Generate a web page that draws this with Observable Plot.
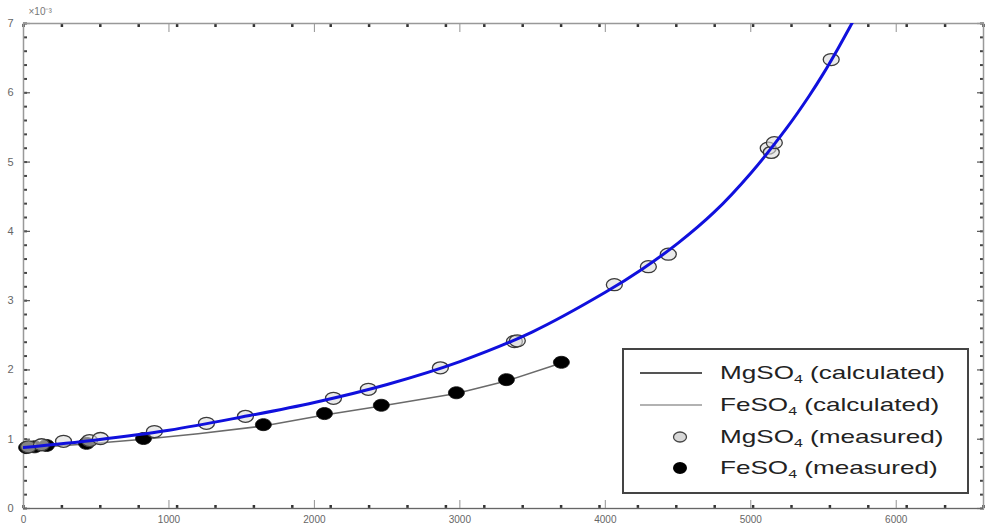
<!DOCTYPE html>
<html>
<head>
<meta charset="utf-8">
<script src="https://cdn.jsdelivr.net/npm/d3@7"></script>
<script src="https://cdn.jsdelivr.net/npm/@observablehq/plot@0.6"></script>
<style>
  body { margin: 0; background: #fff; }
  #wrap { position: relative; width: 985px; height: 530px; font-family: "Liberation Sans", Arial, sans-serif; }
  #legend { position: absolute; left: 622px; top: 348px; }
</style>
</head>
<body>
<div id="wrap"></div>
<script>
// ---- data ----
const xMajor = [0, 1000, 2000, 3000, 4000, 5000, 6000];
const yMajor = [0, 1, 2, 3, 4, 5, 6, 7];

// MgSO4 measured (x, y ×10^-3)
const mgMeasX = [34, 124, 275, 454, 529, 900, 1258, 1526, 2131, 2371, 2866, 3375, 3395, 4062, 4296, 4433, 5120, 5141, 5162, 5553];
const mgMeasY = [0.89, 0.92, 0.97, 0.98, 1.01, 1.11, 1.23, 1.33, 1.59, 1.72, 2.03, 2.41, 2.42, 3.23, 3.49, 3.67, 5.20, 5.14, 5.28, 6.48];

// FeSO4 measured
const feMeasX = [21, 76, 158, 433, 825, 1649, 2069, 2460, 2976, 3320, 3698];
const feMeasY = [0.88, 0.89, 0.91, 0.94, 1.01, 1.21, 1.37, 1.49, 1.67, 1.86, 2.11];

// MgSO4 calculated curve
const mgCalcX = [0, 500, 1000, 1500, 2000, 2500, 3000, 3500, 4000, 4250, 4500, 4750, 5000, 5250, 5400, 5500, 5600, 5700, 5760];
const mgCalcY = [0.88, 0.99, 1.13, 1.32, 1.53, 1.79, 2.12, 2.55, 3.12, 3.45, 3.83, 4.28, 4.84, 5.50, 5.95, 6.28, 6.64, 7.02, 7.25];

// FeSO4 calculated curve
const feCalcX = [0, 433, 825, 1200, 1649, 2069, 2460, 2976, 3320, 3698];
const feCalcY = [0.87, 0.93, 1.00, 1.08, 1.19, 1.35, 1.48, 1.66, 1.84, 2.10];

const mgMeas = mgMeasX.map((x, i) => ({x, y: mgMeasY[i]}));
const feMeas = feMeasX.map((x, i) => ({x, y: feMeasY[i]}));
const mgCalc = mgCalcX.map((x, i) => ({x, y: mgCalcY[i]}));
const feCalc = feCalcX.map((x, i) => ({x, y: feCalcY[i]}));

const xMinor = d3.range(0, 6601, 264);
const yMinor = d3.range(0, 7.001, 0.2).map(v => +v.toFixed(1));

// elliptical marker (the reference image is horizontally stretched)
const ellipse = {
  draw(context, size) {
    const r = Math.sqrt(size / Math.PI);
    const rx = r * 1.33, ry = r;
    const kx = rx * 0.5523, ky = ry * 0.5523;
    context.moveTo(rx, 0);
    context.bezierCurveTo(rx, ky, kx, ry, 0, ry);
    context.bezierCurveTo(-kx, ry, -rx, ky, -rx, 0);
    context.bezierCurveTo(-rx, -ky, -kx, -ry, 0, -ry);
    context.bezierCurveTo(kx, -ry, rx, -ky, rx, 0);
    context.closePath();
  }
};

const blank = () => "";
const plain = d => String(d);

const chart = Plot.plot({
  width: 985,
  height: 530,
  marginLeft: 23,
  marginRight: 2,
  marginTop: 23,
  marginBottom: 22,
  x: {domain: [0, 6600], label: null},
  y: {domain: [0, 7], label: null},
  style: {fontFamily: "'Liberation Sans', Arial, sans-serif", background: "white", overflow: "visible"},
  marks: [
    // minor ticks (inside) on all four sides
    Plot.axisX(xMinor, {anchor: "bottom", label: null, tickSize: -3, tickFormat: blank, stroke: "#333", strokeWidth: 2.5}),
    Plot.axisX(xMinor, {anchor: "top", label: null, tickSize: -3, tickFormat: blank, stroke: "#333", strokeWidth: 2.5}),
    Plot.axisY(yMinor, {anchor: "left", label: null, tickSize: -4, tickFormat: blank, stroke: "#444", strokeWidth: 2}),
    Plot.axisY(yMinor, {anchor: "right", label: null, tickSize: -4, tickFormat: blank, stroke: "#444", strokeWidth: 2}),
    // major ticks with labels
    Plot.axisX(xMajor, {anchor: "bottom", label: null, tickSize: -8, tickPadding: 15, tickFormat: plain, stroke: "#777", strokeWidth: 0.8, fill: "#666", fontSize: 10}),
    Plot.axisX(xMajor, {anchor: "top", label: null, tickSize: -8, tickFormat: blank, stroke: "#777", strokeWidth: 0.8}),
    Plot.axisY(yMajor, {anchor: "left", label: null, tickSize: -7, tickPadding: 17, tickFormat: plain, stroke: "#555", strokeWidth: 1.2, fill: "#666", fontSize: 11}),
    Plot.axisY(yMajor, {anchor: "right", label: null, tickSize: -7, tickFormat: blank, stroke: "#555", strokeWidth: 1.2}),
    Plot.frame({stroke: "#999", strokeWidth: 1.5}),
    Plot.ruleY([0], {stroke: "#666", strokeWidth: 1.2}),
    Plot.text(["×10⁻³"], {frameAnchor: "top-left", dx: 5, dy: -16, textAnchor: "start", fill: "#777", fontSize: 10}),
    // FeSO4 calculated
    Plot.line(feCalc, {x: "x", y: "y", stroke: "#6a6a6a", strokeWidth: 1.6}),
    // FeSO4 measured
    Plot.dot(feMeas, {x: "x", y: "y", r: 6, symbol: ellipse, fill: "#000", stroke: "#111", strokeWidth: 0.8}),
    // MgSO4 measured
    Plot.dot(mgMeas, {x: "x", y: "y", r: 6, symbol: ellipse, fill: "#dcdcdc", fillOpacity: 0.6, stroke: "#3a3a3a", strokeWidth: 1.3}),
    // MgSO4 calculated
    Plot.line(mgCalc, {x: "x", y: "y", stroke: "#1010dd", strokeWidth: 3, curve: "catmull-rom", clip: true})
  ]
});

const wrap = document.getElementById("wrap");
wrap.appendChild(chart);

// legend
const legend = document.createElement("div");
legend.id = "legend";
legend.innerHTML = `
<svg width="347" height="146" xmlns="http://www.w3.org/2000/svg" font-family="'Liberation Sans', Arial, sans-serif">
  <rect x="1" y="1" width="345" height="144" fill="white" stroke="#444" stroke-width="2"/>
  <line x1="18" x2="80" y1="25" y2="25" stroke="#555" stroke-width="2"/>
  <line x1="18" x2="80" y1="57" y2="57" stroke="#999" stroke-width="1.5"/>
  <ellipse cx="58" cy="89" rx="6.5" ry="5" fill="#d8d8d8" stroke="#444" stroke-width="1.3"/>
  <ellipse cx="58" cy="120" rx="7" ry="6" fill="#000"/>
  <g fill="#222" font-size="18">
    <g transform="translate(98,0) scale(1.45,1)">
      <text x="0" y="31">MgSO<tspan font-size="11" dy="4">4</tspan><tspan dy="-4"> (calculated)</tspan></text>
      <text x="0" y="63">FeSO<tspan font-size="11" dy="4">4</tspan><tspan dy="-4"> (calculated)</tspan></text>
      <text x="0" y="95">MgSO<tspan font-size="11" dy="4">4</tspan><tspan dy="-4"> (measured)</tspan></text>
      <text x="0" y="126">FeSO<tspan font-size="11" dy="4">4</tspan><tspan dy="-4"> (measured)</tspan></text>
    </g>
  </g>
</svg>`;
wrap.appendChild(legend);
</script>
</body>
</html>
